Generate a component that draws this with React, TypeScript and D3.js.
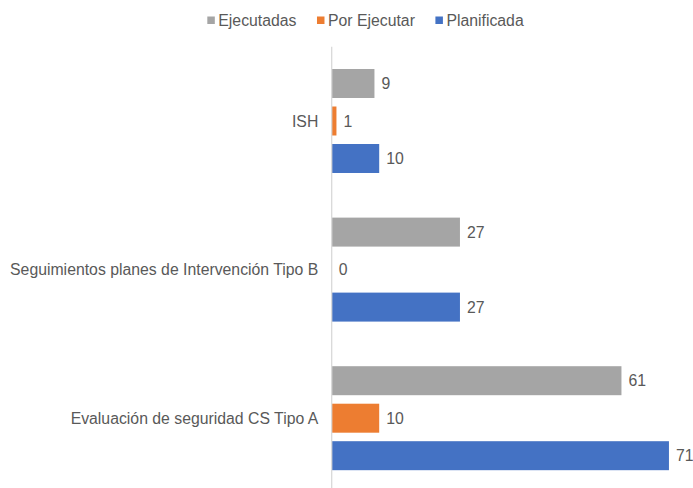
import React, { useEffect, useRef } from "react";
import { select, scaleBand, scaleLinear } from "d3";

// chart data
const categories = ["ISH", "Seguimientos planes de Intervención Tipo B", "Evaluación de seguridad CS Tipo A"];
const seriesNames = ["Ejecutadas", "Por Ejecutar", "Planificada"];
const ejecutadas = [9, 27, 61];
const porEjecutar = [1, 0, 10];
const planificada = [10, 27, 71];
const seriesColors = ["#A5A5A5", "#ED7D31", "#4472C4"];

const App = () => {
  const svgRef = useRef<SVGSVGElement>(null);

  useEffect(() => {
    const width = 693;
    const height = 488;
    const font = "'Liberation Sans', Arial, sans-serif";
    const textColor = "#595959";
    const fontSize = 15.8;

    const svg = select(svgRef.current);
    svg.selectAll("*").remove();
    svg.attr("width", width).attr("height", height);

    const values = [ejecutadas, porEjecutar, planificada];

    // Scales
    const x = scaleLinear().domain([0, 80]).range([331.7, 331.7 + 380]);
    const y = scaleBand<string>().domain(categories).range([46.7, 46.7 + 3 * 148.6]).padding(0);
    const inner = scaleBand<string>()
      .domain(seriesNames)
      .range([0, y.bandwidth()])
      .paddingInner(0.227)
      .paddingOuter(0.595);

    // Bars
    const groups = svg
      .append("g")
      .selectAll("g")
      .data(categories)
      .enter()
      .append("g")
      .attr("transform", (d) => `translate(0, ${y(d)})`);

    groups.each(function (cat, ci) {
      const g = select(this);
      seriesNames.forEach((s, si) => {
        const v = values[si][ci];
        const y0 = inner(s) as number;
        g.append("rect")
          .attr("x", x(0))
          .attr("y", y0)
          .attr("width", x(v) - x(0))
          .attr("height", inner.bandwidth())
          .attr("fill", seriesColors[si]);
        g.append("text")
          .attr("x", x(v) + 7)
          .attr("y", y0 + inner.bandwidth() / 2)
          .attr("dy", "0.35em")
          .attr("font-family", font)
          .attr("font-size", fontSize)
          .attr("fill", textColor)
          .text(v);
      });
      g.append("text")
        .attr("x", x(0) - 13.4)
        .attr("y", y.bandwidth() / 2)
        .attr("dy", "0.35em")
        .attr("text-anchor", "end")
        .attr("font-family", font)
        .attr("font-size", fontSize)
        .attr("fill", textColor)
        .text(cat);
    });

    // Axis line
    svg
      .append("line")
      .attr("x1", x(0))
      .attr("x2", x(0))
      .attr("y1", y.range()[0])
      .attr("y2", y.range()[1])
      .attr("stroke", "#D9D9D9")
      .attr("stroke-width", 1.3);

    // Legend
    const legend = svg.append("g");
    let cursor = 0;
    seriesNames.forEach((s, i) => {
      const item = legend.append("g").attr("transform", `translate(${cursor}, 0)`);
      item.append("rect").attr("x", 0).attr("y", -3.5).attr("width", 7.5).attr("height", 7.5).attr("fill", seriesColors[i]);
      const t = item
        .append("text")
        .attr("x", 11)
        .attr("y", 0)
        .attr("dy", "0.35em")
        .attr("font-family", font)
        .attr("font-size", fontSize)
        .attr("fill", textColor)
        .text(s);
      const w = (t.node() as SVGTextElement).getComputedTextLength();
      cursor += 11 + w + 20.5;
    });
    const total = cursor - 20.5;
    legend.attr("transform", `translate(${365.5 - total / 2}, 20)`);
  }, []);

  return <svg ref={svgRef} style={{ position: "absolute", left: 0, top: 0 }}></svg>;
};

export default App;
